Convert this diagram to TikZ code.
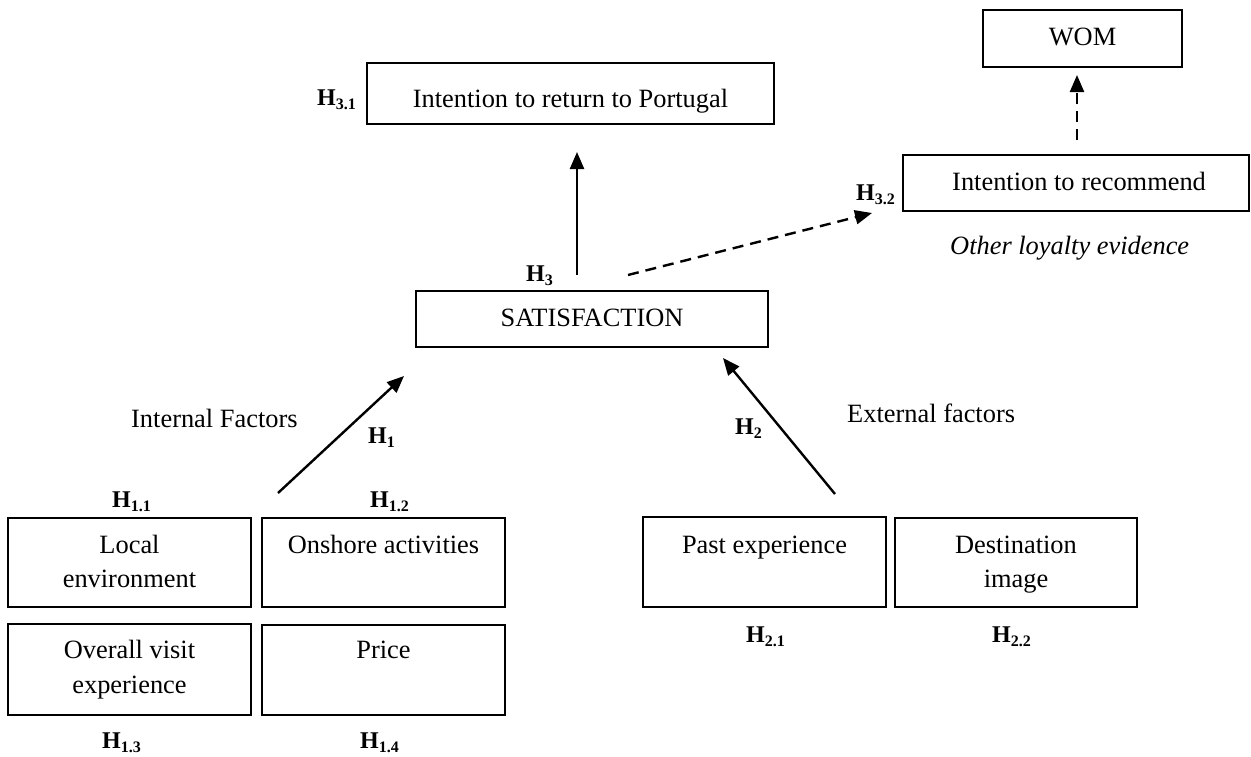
\documentclass[tikz,border=0pt]{standalone}
\usepackage{fontspec}
\setmainfont{Liberation Serif}
\usetikzlibrary{arrows.meta}

% hypothesis label: bold H with a bold lowered index
\newcommand{\hyplabel}[1]{\fontsize{24}{24}\selectfont\textbf{H}\raisebox{-4.5pt}{\fontsize{16}{16}\selectfont\textbf{#1}}}

\begin{document}
\begin{tikzpicture}[x=1pt,y=-1pt,
  boxnode/.style={draw, line width=1.8pt, rectangle, inner sep=0pt},
  txt/.style={font=\fontsize{26.4}{34}\selectfont, inner sep=0pt, anchor=base},
  hyp/.style={inner sep=0pt, anchor=base west},
  link/.style={line width=2.4pt, -{Triangle[length=17pt,width=14pt]}},
  dlink/.style={link, dash pattern=on 11pt off 7pt}
]
\useasboundingbox (0,0) rectangle (1251,756);

% constructs
\node[boxnode, minimum width=407pt, minimum height=61pt] (ret) at (570.5,93.5) {};
\node[boxnode, minimum width=199pt, minimum height=57pt] (wom) at (1082.5,38.5) {};
\node[boxnode, minimum width=346pt, minimum height=56pt] (rec) at (1076,183) {};
\node[boxnode, minimum width=352pt, minimum height=56pt] (sat) at (592,319) {};

% internal factors
\node[boxnode, minimum width=243pt, minimum height=89pt] (le) at (129.5,562.5) {};
\node[boxnode, minimum width=243pt, minimum height=89pt] (oa) at (383.5,562.5) {};
\node[boxnode, minimum width=243pt, minimum height=91pt] (ov) at (129.5,669.5) {};
\node[boxnode, minimum width=243pt, minimum height=90pt] (pr) at (383.5,670) {};

% external factors
\node[boxnode, minimum width=243pt, minimum height=90pt] (pe) at (764.5,562) {};
\node[boxnode, minimum width=242pt, minimum height=89pt] (di) at (1016,562.5) {};

% box texts
\node[txt] (tret) at (570.5,107) {Intention to return to Portugal};
\node[txt] (twom) at (1082.5,45) {WOM};
\node[txt, anchor=base west] (trec) at (952,190) {Intention to recommend};
\node[txt] (tsat) at (592,326) {SATISFACTION};
\node[txt] (tle1) at (129.5,553) {Local};
\node[txt] (tle2) at (129.5,587) {environment};
\node[txt] (toa) at (383.5,553) {Onshore activities};
\node[txt] (tov1) at (129.5,658) {Overall visit};
\node[txt] (tov2) at (129.5,693) {experience};
\node[txt] (tpr) at (383.5,658) {Price};
\node[txt] (tpe) at (764.5,553) {Past experience};
\node[txt] (tdi1) at (1016,553) {Destination};
\node[txt] (tdi2) at (1016,587) {image};

% free labels
\node[txt, anchor=base west] (tol) at (950,254) {\itshape Other loyalty evidence};
\node[txt, anchor=base west] (tif) at (131,427) {Internal Factors};
\node[txt, anchor=base west] (tef) at (847,422) {External factors};

% hypotheses
\node[hyp] (h31) at (317,105) {\hyplabel{3.1}};
\node[hyp] (h32) at (856,200) {\hyplabel{3.2}};
\node[hyp] (h3) at (526,281) {\hyplabel{3}};
\node[hyp] (h1) at (368,443) {\hyplabel{1}};
\node[hyp] (h2) at (735,434) {\hyplabel{2}};
\node[hyp] (h11) at (112,507) {\hyplabel{1.1}};
\node[hyp] (h12) at (370,507) {\hyplabel{1.2}};
\node[hyp] (h13) at (102,748) {\hyplabel{1.3}};
\node[hyp] (h14) at (360,748) {\hyplabel{1.4}};
\node[hyp] (h21) at (746,642) {\hyplabel{2.1}};
\node[hyp] (h22) at (992,642) {\hyplabel{2.2}};

% arrow end points (the arrows stop short of the boxes)
\coordinate (a1s) at (278,493);
\coordinate (a1e) at (404,376);
\coordinate (a2s) at (835,494);
\coordinate (a2e) at (723,358);
\coordinate (a3s) at (577,275);
\coordinate (a3e) at (577,152);
\coordinate (a4s) at (628,275);
\coordinate (a4e) at (872,213);
\coordinate (a5s) at (1077,140);
\coordinate (a5e) at (1077,75);

\draw[link] (a1s) -- (a1e);
\draw[link] (a2s) -- (a2e);
\draw[link] (a3s) -- (a3e);
\draw[dlink] (a4s) -- (a4e);
\draw[dlink] (a5s) -- (a5e);
\end{tikzpicture}
\end{document}
